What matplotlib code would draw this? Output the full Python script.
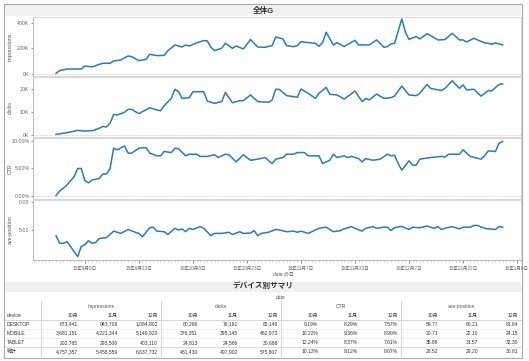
import matplotlib
matplotlib.use('Agg')
import matplotlib.pyplot as plt
import matplotlib.dates as mdates
from matplotlib.patches import Rectangle
from matplotlib.ticker import FixedLocator, FuncFormatter
import numpy as np
import pandas as pd

plt.rcParams['font.family'] = ['Liberation Sans', 'Noto Sans CJK JP']

W, H = 529, 361
start = pd.Timestamp('2015-08-31')

## daily series (day offset from start, value)
imp_days = [0, 1, 3, 5, 7, 8, 10, 12, 13, 15, 16, 18, 20, 21, 23, 25, 26, 28, 30, 31,
            33, 35, 36, 37, 39, 41, 42, 43, 44, 46, 47, 49, 50, 52, 54, 56, 58, 60, 61, 63,
            64, 66, 67, 68, 70, 72, 73, 74, 75, 77, 78, 80, 81, 83, 84, 87, 89, 91, 92, 93,
            94, 96, 97, 98, 100, 101, 103, 105, 106, 108, 110, 112, 113, 114, 116, 119, 120, 121, 122, 124]
imp_vals = [5, 26, 39, 38, 39, 62, 55, 75, 83, 83, 101, 109, 140, 135, 104, 114, 153, 143, 145, 179,
            226, 210, 226, 218, 242, 260, 258, 208, 182, 200, 239, 200, 218, 195, 268, 210, 208, 221, 288, 273,
            221, 213, 221, 252, 244, 239, 216, 244, 325, 226, 244, 213, 231, 262, 226, 226, 265, 208, 213, 234,
            239, 429, 325, 270, 291, 273, 314, 283, 265, 268, 317, 265, 265, 249, 278, 242, 239, 231, 242, 226]

clk_days = [0, 2, 4, 6, 8, 10, 12, 13, 14, 15, 16, 17, 19, 20, 21, 23, 24, 26, 28, 29,
            30, 32, 33, 34, 35, 37, 38, 41, 42, 44, 46, 47, 49, 51, 52, 54, 56, 59, 60, 61,
            62, 64, 67, 68, 70, 72, 73, 75, 76, 78, 80, 83, 85, 86, 87, 89, 91, 93, 94, 96,
            98, 100, 101, 103, 104, 107, 108, 110, 112, 113, 114, 116, 118, 120, 121, 123, 124]
clk_vals = [0.2, 0.6, 1.2, 1.9, 1.6, 1.75, 2.8, 3.6, 3.4, 5.0, 8.9, 8.6, 9.8, 11.1, 11.1, 9.2, 10.1, 11.8, 10.8, 10.5,
            12.7, 15.9, 19.9, 18.8, 15.9, 16.2, 18.8, 18.8, 14.7, 13.7, 14.5, 18.5, 14.0, 14.9, 14.9, 17.4, 14.5, 14.2, 15.2, 19.9,
            19.8, 17.1, 16.4, 20.0, 18.1, 15.9, 18.1, 20.7, 17.7, 17.4, 15.6, 19.1, 14.5, 15.9, 15.2, 17.8, 15.9, 16.2, 16.9, 21.3,
            17.4, 17.1, 18.1, 22.0, 20.3, 19.3, 20.3, 23.6, 20.3, 21.8, 19.6, 19.9, 16.9, 19.3, 19.2, 22.0, 22.2]

ctr_days = [0, 1, 2, 3, 5, 6, 7, 8, 9, 10, 12, 13, 14, 15, 16, 17, 19, 20, 21, 23,
            25, 26, 28, 29, 30, 32, 33, 34, 36, 37, 39, 40, 42, 44, 45, 47, 48, 50, 52, 54,
            56, 58, 60, 61, 63, 64, 66, 67, 69, 70, 72, 73, 74, 76, 77, 78, 80, 81, 82, 84,
            85, 86, 88, 90, 92, 93, 94, 95, 96, 98, 99, 100, 101, 104, 107, 108, 109, 112, 113, 114,
            115, 118, 119, 120, 122, 123, 124]
ctr_vals = [0.1, 0.9, 1.4, 2.0, 3.5, 5.0, 5.0, 2.8, 2.4, 2.9, 3.2, 4.0, 4.0, 5.0, 8.7, 8.4, 9.1, 7.8, 7.8, 8.7,
            8.8, 7.8, 7.3, 7.3, 8.1, 7.9, 8.7, 8.6, 7.3, 7.6, 7.6, 7.2, 7.2, 7.5, 7.0, 7.6, 7.5, 6.2, 7.5, 6.5,
            6.7, 7.0, 5.9, 6.7, 7.0, 7.6, 7.6, 7.9, 7.9, 7.3, 7.3, 7.3, 5.9, 6.5, 7.6, 7.0, 7.3, 7.0, 7.2, 6.8,
            6.2, 6.8, 6.5, 6.7, 7.6, 7.3, 7.4, 5.9, 4.7, 6.4, 5.6, 5.6, 6.7, 7.0, 7.2, 7.1, 7.6, 7.6, 8.4, 7.8,
            7.2, 6.7, 7.3, 8.2, 8.1, 9.6, 9.9]

pos_days = [0, 1, 2, 3, 4, 6, 7, 8, 9, 10, 11, 12, 14, 16, 18, 20, 22, 23, 24, 26,
            27, 28, 30, 31, 33, 34, 35, 36, 37, 38, 40, 41, 43, 44, 46, 48, 49, 51, 52, 54,
            55, 56, 57, 59, 61, 62, 64, 66, 67, 68, 70, 72, 73, 75, 77, 79, 80, 82, 83, 85,
            86, 88, 89, 91, 92, 93, 94, 96, 98, 99, 101, 103, 105, 106, 107, 108, 110, 112, 113, 115,
            116, 117, 119, 120, 122, 123, 124]
pos_vals = [6.0, 7.35, 7.35, 7.06, 7.9, 9.7, 7.9, 7.6, 6.9, 7.35, 7.2, 6.5, 6.35, 5.2, 5.6, 4.9, 5.4, 5.6, 6.2, 4.6,
            4.5, 5.2, 5.3, 5.8, 4.7, 5.0, 4.8, 5.3, 4.7, 4.9, 4.4, 4.7, 6.0, 5.6, 5.6, 5.4, 5.8, 5.3, 5.6, 5.55,
            5.1, 6.0, 5.6, 5.4, 4.9, 5.0, 5.3, 5.2, 5.4, 5.2, 5.6, 5.0, 4.7, 4.5, 5.3, 5.1, 4.8, 4.4, 4.7, 5.2,
            4.7, 4.4, 4.7, 4.5, 4.5, 5.1, 4.6, 4.35, 4.9, 4.5, 4.6, 4.3, 4.7, 4.4, 4.9, 4.7, 4.4, 4.8, 4.5, 4.5,
            4.2, 4.2, 4.7, 4.8, 4.9, 4.4, 4.5]

## summary table
devices = ['DESKTOP', 'MOBILE', 'TABLET', '総計']
months = ['10月', '11月', '12月']
groups = ['impressions', 'clicks', 'CTR', 'ave-position']
tbl_imp = [[873441, 943709, 1084802], [3681151, 4221344, 5149820], [202765, 293506, 403110], [4757357, 5458559, 6637732]]
tbl_clk = [[80266, 78191, 82146], [376351, 395145, 462973], [24813, 24566, 30688], [481430, 497902, 575807]]
tbl_ctr = [[9.19, 8.29, 7.57], [10.22, 9.36, 8.99], [12.24, 8.37, 7.61], [10.12, 9.12, 8.67]]
tbl_pos = [[59.77, 60.21, 61.84], [20.71, 22.10, 24.15], [35.88, 31.57, 32.30], [28.52, 29.20, 30.81]]

blue = '#2b7bba'
grid_c = '#d6d6d6'
txt_c = '#555555'

fig = plt.figure(figsize=(W / 100, H / 100), dpi=100)
bg = fig.add_axes([0, 0, 1, 1])
bg.set_xlim(0, W)
bg.set_ylim(H, 0)
bg.axis('off')

# frame and title bars
bg.add_patch(Rectangle((4, 4), 518, 354, fill=False, ec='#a8a8a8', lw=0.8))
bg.add_patch(Rectangle((5, 5), 516, 11, fc='#f0f0f0', ec='none'))
bg.text(263, 10.5, '全体G', ha='center', va='center', fontsize=5.5, fontweight='bold', color='#333333')

def day_dates(days):
    return start + pd.to_timedelta(days, unit='D')

def fmt_date(x, pos=None):
    d = mdates.num2date(x)
    return f'{d.year % 100}年{d.month}月{d.day}日'

series = [
    ('impressions', imp_days, [v * 1000 for v in imp_vals], (17, 76), (-16000, 444000), [0, 200000, 400000],
     lambda v, p: f'{int(round(v / 1000))}K'),
    ('clicks', clk_days, [v * 1000 for v in clk_vals], (77, 137), (-1000, 25250), [0, 10000, 20000],
     lambda v, p: f'{int(round(v / 1000))}K'),
    ('CTR', ctr_days, ctr_vals, (138, 199), (-0.55, 10.55), [0, 5, 10],
     lambda v, p: f'{v:.2f}%'),
    ('ave-position', pos_days, pos_vals, (200, 260), (10.3, -0.3), [0, 5],
     lambda v, p: f'{v:.2f}'),
]

xmin = start + pd.Timedelta(days=-6.4)
xmax = start + pd.Timedelta(days=129.1)
major = pd.date_range('2015-09-08', '2016-01-06', freq='15D')

for i, (name, days, vals, (top, bot), ylim, yt, yfmt) in enumerate(series):
    assert len(days) == len(vals)
    ax = fig.add_axes([33 / W, 1 - bot / H, 488 / W, (bot - top) / H])
    ax.set_facecolor('white')
    ax.plot(day_dates(days), vals, color=blue, lw=1.1, solid_joinstyle='round')
    ax.set_xlim(xmin, xmax)
    ax.set_ylim(*ylim)
    ax.yaxis.set_major_locator(FixedLocator(yt))
    ax.yaxis.set_major_formatter(FuncFormatter(yfmt))
    ax.tick_params(axis='y', labelsize=3.8, colors='#666666', length=1.5, width=0.5, pad=1)
    for s in ['top', 'bottom', 'right']:
        ax.spines[s].set_color(grid_c)
        ax.spines[s].set_linewidth(0.7)
    ax.spines['left'].set_color('#bcbcbc')
    ax.spines['left'].set_linewidth(0.8)
    if name != 'ave-position':
        ax.axhline(0, color='#c8c8c8', lw=0.6, ls=(0, (1, 1)), zorder=1)
    ax.set_xticks(major)
    ax.xaxis.set_minor_locator(mdates.DayLocator())
    if i < 3:
        ax.tick_params(axis='x', which='both', length=0, labelbottom=False)
    else:
        ax.xaxis.set_major_formatter(FuncFormatter(fmt_date))
        ax.tick_params(axis='x', which='major', labelsize=3.3, colors='#666666', length=2.5, width=0.5, pad=1.5)
        ax.tick_params(axis='x', which='minor', length=1.2, width=0.4, color='#b0b0b0')
        ax.spines['bottom'].set_color('#bcbcbc')
    bg.text(10, (top + bot) / 2, name, rotation=90, ha='center', va='center', fontsize=3.8, color=txt_c)

bg.text(283, 274, 'date の日', ha='center', va='center', fontsize=3.5, color=txt_c)

# summary table
bg.add_patch(Rectangle((5, 281.5), 516, 10, fc='#f0f0f0', ec='none'))
bg.text(263, 286.5, 'デバイス別サマリ', ha='center', va='center', fontsize=5.5, fontweight='bold', color='#333333')
bg.text(281, 297.5, 'date', ha='center', va='center', fontsize=3.5, color=txt_c)

fs = 3.6
row_y = [324, 333.2, 342.3, 351.5]
bg.text(7, 315.5, 'device', ha='left', va='center', fontsize=fs, color='#333333')
tables = [
    [[f'{v:,}' for v in r] for r in tbl_imp],
    [[f'{v:,}' for v in r] for r in tbl_clk],
    [[f'{v:.2f}%' for v in r] for r in tbl_ctr],
    [[f'{v:.2f}' for v in r] for r in tbl_pos],
]
for g, gname in enumerate(groups):
    gx = 41 + 120 * g
    bg.text(gx + 60, 306.5, gname, ha='center', va='center', fontsize=fs, color=txt_c)
    bg.plot([gx, gx], [301, 357.5], color=grid_c, lw=0.7)
    for m, mname in enumerate(months):
        cx = gx + 40 * (m + 1) - 3
        bg.text(cx, 315.5, mname, ha='right', va='center', fontsize=fs, color='#333333')
        for r in range(len(devices)):
            bg.text(cx, row_y[r], tables[g][r][m], ha='right', va='center', fontsize=fs, color='#333333')

for r, dev in enumerate(devices):
    bg.text(7, row_y[r], dev, ha='left', va='center', fontsize=fs, color='#333333')

bg.plot([5, 521], [319.5, 319.5], color=grid_c, lw=0.7)
bg.plot([5, 521], [347, 347], color=grid_c, lw=0.6)
for yy in [328.6, 337.8]:
    bg.plot([5, 521], [yy, yy], color='#ececec', lw=0.5)

fig.savefig('out.png', dpi=100)
